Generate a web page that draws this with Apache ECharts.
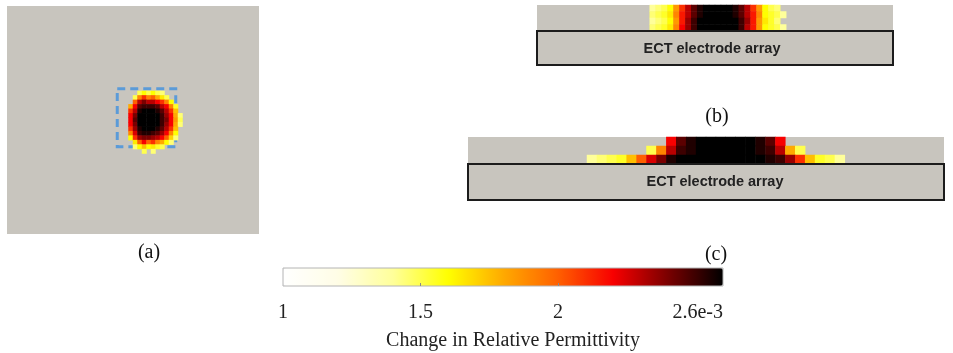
<!DOCTYPE html>
<html><head><meta charset="utf-8">
<script src="https://cdn.jsdelivr.net/npm/echarts@6/dist/echarts.min.js"></script>
<style>html,body{margin:0;padding:0;background:#fff}#c{width:953px;height:353px}</style>
</head><body><div id="c"></div>
<script>
// ---- colour scale ----
const scaleMin = 1, scaleMax = 2.6;
const colorbarTicks = [1, 1.5, 2, 2.6];
const colorbarTickLabels = ['1', '1.5', '2', '2.6e-3'];
const colorbarMinorTicks = [1.5, 2];
const colorbarColors = ['#ffffff', '#fffde6', '#ffff9a', '#ffff00', '#ffaa00', '#ff6000', '#f80000', '#7a0000', '#000000'];
const colorbarTitle = 'Change in Relative Permittivity';

// ---- panel (a): top view, 56 x 51 cells ----
const aColCount = 56, aRowCount = 51;
const aColStart = 27, aRowStart = 19;
const aBlob = [
  [1,1,1.5,1.6,1.5,1.6,1.5,1.45,1,1,1,1],
  [1,1.5,1.9,2.1,1.9,2.0,1.8,1.65,1.5,1,1,1],
  [1,2.0,2.3,2.4,2.3,2.3,2.2,2.1,1.9,1.6,1,1],
  [1.8,2.2,2.45,2.5,2.5,2.5,2.45,2.3,2.2,1.9,1.55,1],
  [2.1,2.3,2.55,2.6,2.6,2.6,2.55,2.45,2.3,2.1,1.75,1],
  [2.2,2.4,2.6,2.6,2.6,2.6,2.6,2.5,2.35,2.2,1.8,1.45],
  [2.2,2.45,2.6,2.6,2.6,2.6,2.6,2.5,2.4,2.2,1.85,1.5],
  [2.2,2.4,2.6,2.6,2.6,2.6,2.6,2.5,2.35,2.2,1.8,1.45],
  [2.1,2.35,2.55,2.6,2.6,2.6,2.55,2.45,2.3,2.1,1.75,1],
  [1.9,2.25,2.5,2.55,2.55,2.5,2.45,2.35,2.2,1.9,1.6,1],
  [1.6,2.1,2.35,2.4,2.4,2.35,2.3,2.2,2.0,1.7,1.45,1],
  [1,1.65,2.0,2.2,2.0,2.1,1.9,1.8,1.6,1.45,1,1],
  [1,1.45,1.6,1.75,1.6,1.65,1.55,1.5,1,1,1,1],
  [1,1,1,1.5,1,1.45,1,1,1,1,1,1]
];
const aBoxCells = [[24, 18], [37, 31]]; // dashed region of interest (cell indices)

// ---- panel (b): side view, 60 x 4 cells ----
const bColCount = 60, bRowCount = 4;
const bColStart = 19, bRowStart = 0;
const bBlob = [
  [1.4,1.45,1.5,1.6,1.85,2.1,2.3,2.45,2.55,2.6,2.6,2.6,2.6,2.6,2.55,2.45,2.3,2.1,1.85,1.6,1.5,1.45,1],
  [1.45,1.5,1.55,1.65,1.9,2.15,2.3,2.45,2.55,2.6,2.6,2.6,2.6,2.6,2.55,2.45,2.3,2.15,1.9,1.6,1.55,1.5,1.4],
  [1.4,1.45,1.5,1.6,1.85,2.15,2.35,2.5,2.6,2.6,2.6,2.6,2.6,2.6,2.6,2.5,2.35,2.15,1.85,1.65,1.55,1.45,1],
  [1.45,1.5,1.55,1.65,1.9,2.2,2.35,2.5,2.6,2.6,2.6,2.6,2.6,2.6,2.6,2.5,2.3,2.15,1.85,1.6,1.55,1.5,1.4]
];

// ---- panel (c): side view, 48 x 3 cells ----
const cColCount = 48, cRowCount = 3;
const cColStart = 12, cRowStart = 0;
const cBlob = [
  [1,1,1,1,1,1,1,1,2.2,2.45,2.55,2.6,2.6,2.6,2.6,2.6,2.6,2.55,2.45,2.2,1,1,1,1,1,1],
  [1,1,1,1,1,1,1.5,1.9,2.3,2.5,2.55,2.6,2.6,2.6,2.6,2.6,2.6,2.55,2.5,2.3,1.8,1.5,1,1,1,1],
  [1.4,1.45,1.5,1.55,1.75,2.0,2.25,2.4,2.55,2.6,2.6,2.6,2.6,2.6,2.6,2.6,2.6,2.6,2.55,2.5,2.35,2.1,1.75,1.55,1.5,1.4]
];

const panelLabels = ['(a)', '(b)', '(c)'];
const arrayLabel = 'ECT electrode array';

function toCells(blob, colStart, rowStart) {
  const out = [];
  blob.forEach((row, r) => row.forEach((v, c) => { if (v > 1) out.push([c + colStart, r + rowStart, v]); }));
  return out;
}
const idx = n => Array.from({length: n}, (_, i) => i);

const GRAY = '#c8c5be';
const SERIF = 'Liberation Serif';
const SANS = 'Liberation Sans';

function catX(grid, n) { return {gridIndex: grid, type: 'category', data: idx(n), show: false, boundaryGap: true}; }
function catY(grid, n) { return {gridIndex: grid, type: 'category', data: idx(n), show: false, inverse: true, boundaryGap: true}; }
function hidden(grid) { return {gridIndex: grid, type: 'value', show: false, min: 0, max: 1}; }

const chart = echarts.init(document.getElementById('c'), null, {renderer: 'canvas'});
chart.setOption({
  animation: false,
  backgroundColor: '#ffffff',
  grid: [
    {left: 7, top: 6, width: 252, height: 228, show: true, backgroundColor: GRAY, borderWidth: 0},
    {left: 537, top: 5, width: 356, height: 26, show: true, backgroundColor: GRAY, borderWidth: 0},
    {left: 537, top: 31, width: 356, height: 34, show: true, backgroundColor: GRAY, borderColor: '#1c1c1c', borderWidth: 2, z: 5},
    {left: 468, top: 137, width: 476, height: 27, show: true, backgroundColor: GRAY, borderWidth: 0},
    {left: 468, top: 164, width: 476, height: 36, show: true, backgroundColor: GRAY, borderColor: '#1c1c1c', borderWidth: 2, z: 5},
    {left: 283, top: 268, width: 440, height: 18, show: true, backgroundColor: 'transparent', borderColor: '#b4b4b4', borderWidth: 1, z: 10}
  ],
  xAxis: [
    catX(0, aColCount), catX(1, bColCount), hidden(2), catX(3, cColCount), hidden(4),
    {
      gridIndex: 5, type: 'value', min: scaleMin, max: scaleMax, position: 'bottom', z: 10,
      axisLine: {show: false}, splitLine: {show: false},
      axisTick: {show: true, inside: true, length: 3, customValues: colorbarMinorTicks, lineStyle: {color: '#8a8a8a'}},
      axisLabel: {
        customValues: colorbarTicks,
        formatter: v => { let k = 0; colorbarTicks.forEach((t, i) => { if (Math.abs(t - v) < Math.abs(colorbarTicks[k] - v)) k = i; }); return colorbarTickLabels[k]; },
        margin: 17, fontFamily: SERIF, fontSize: 20, color: '#222',
        alignMinLabel: 'center', alignMaxLabel: 'right'
      },
      name: colorbarTitle, nameLocation: 'middle', nameGap: 45,
      nameTextStyle: {fontFamily: SERIF, fontSize: 20, color: '#222', padding: [0, 0, 0, 20]}
    }
  ],
  yAxis: [
    catY(0, aRowCount), catY(1, bRowCount), hidden(2), catY(3, cRowCount), hidden(4), hidden(5)
  ],
  visualMap: {
    type: 'continuous', min: scaleMin, max: scaleMax, orient: 'horizontal',
    left: 283, top: 268, itemWidth: 18, itemHeight: 440, padding: 0,
    calculable: false, hoverLink: false, seriesIndex: [0, 1, 2],
    inRange: {color: colorbarColors}
  },
  series: [
    {
      type: 'heatmap', xAxisIndex: 0, yAxisIndex: 0, data: toCells(aBlob, aColStart, aRowStart),
      itemStyle: {borderWidth: 0}, emphasis: {disabled: true},
      markArea: {
        silent: true,
        itemStyle: {color: 'rgba(0,0,0,0)', borderColor: '#5b9bd8', borderWidth: 3, borderType: [8, 5]},
        data: [[{xAxis: aBoxCells[0][0], yAxis: aBoxCells[0][1]}, {xAxis: aBoxCells[1][0], yAxis: aBoxCells[1][1]}]]
      }
    },
    {type: 'heatmap', xAxisIndex: 1, yAxisIndex: 1, data: toCells(bBlob, bColStart, bRowStart), itemStyle: {borderWidth: 0}, emphasis: {disabled: true}},
    {type: 'heatmap', xAxisIndex: 3, yAxisIndex: 3, data: toCells(cBlob, cColStart, cRowStart), itemStyle: {borderWidth: 0}, emphasis: {disabled: true}}
  ],
  graphic: [
    {type: 'text', x: 149, y: 253, z: 20, style: {text: panelLabels[0], font: '20px "' + SERIF + '"', fill: '#111', textAlign: 'center', textVerticalAlign: 'middle'}},
    {type: 'text', x: 717, y: 117, z: 20, style: {text: panelLabels[1], font: '20px "' + SERIF + '"', fill: '#111', textAlign: 'center', textVerticalAlign: 'middle'}},
    {type: 'text', x: 716, y: 255, z: 20, style: {text: panelLabels[2], font: '20px "' + SERIF + '"', fill: '#111', textAlign: 'center', textVerticalAlign: 'middle'}},
    {type: 'text', x: 712, y: 49, z: 20, style: {text: arrayLabel, font: 'bold 14.5px "' + SANS + '"', fill: '#222', textAlign: 'center', textVerticalAlign: 'middle'}},
    {type: 'text', x: 715, y: 182, z: 20, style: {text: arrayLabel, font: 'bold 14.5px "' + SANS + '"', fill: '#222', textAlign: 'center', textVerticalAlign: 'middle'}}
  ]
});
</script></body></html>
